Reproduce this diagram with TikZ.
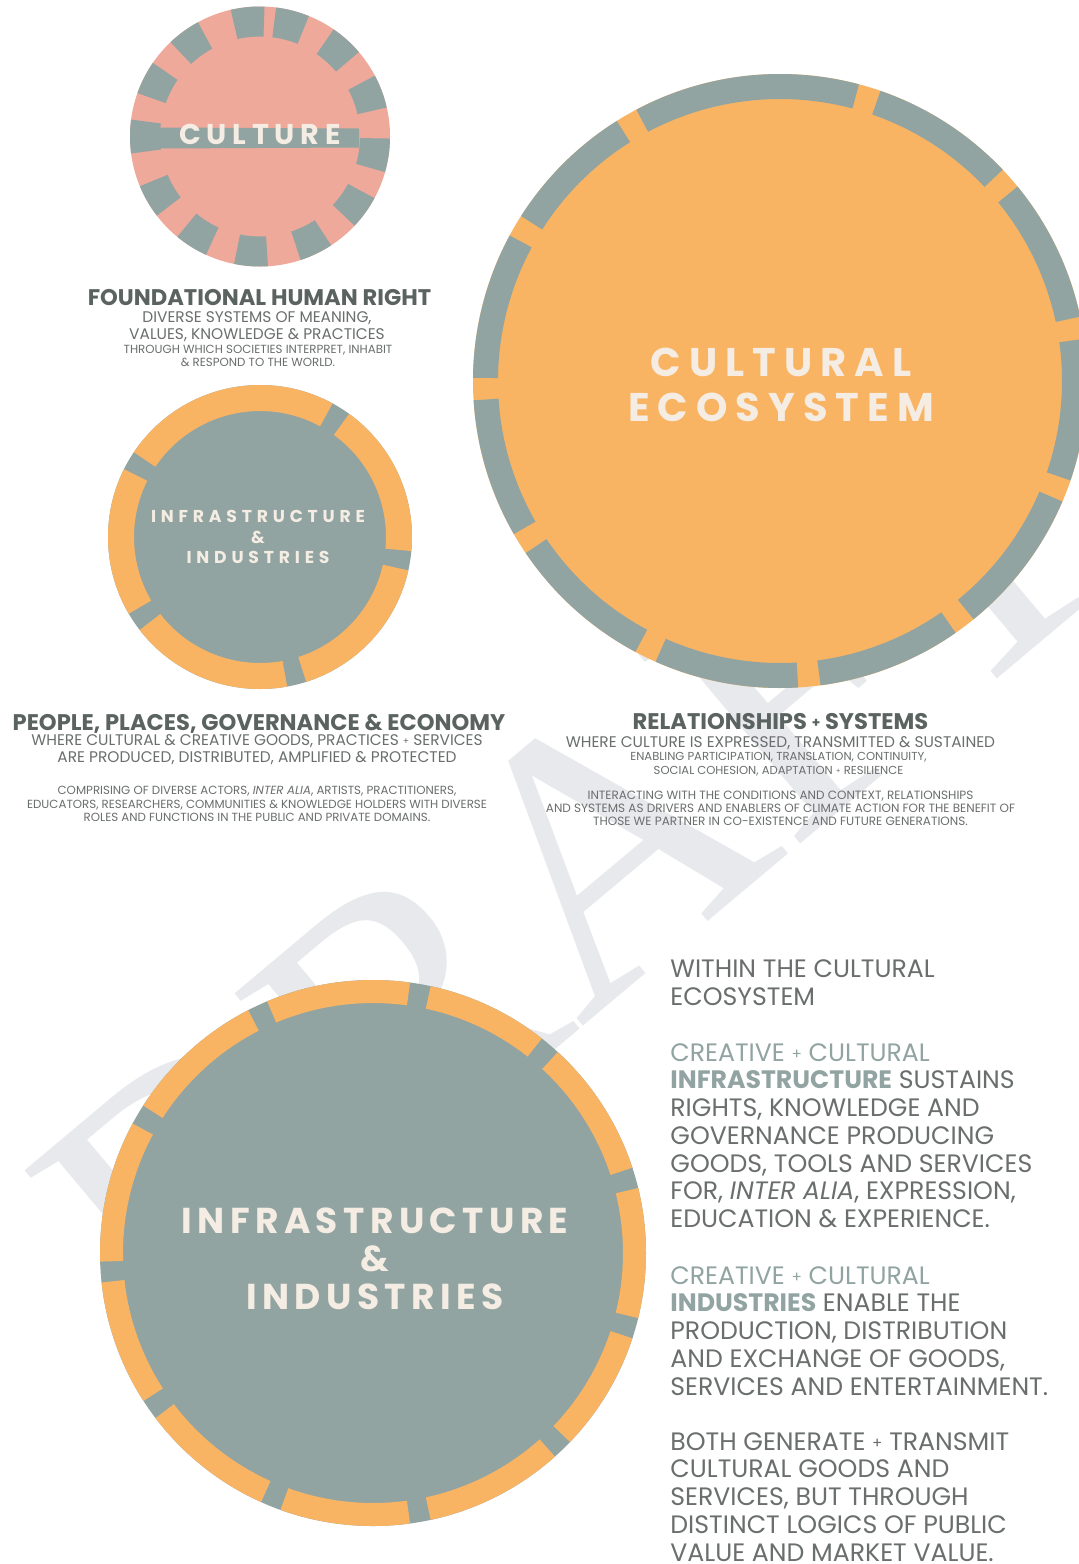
\documentclass[tikz,border=0pt]{standalone}
\usepackage{fontspec}
\usepackage{graphicx}
\setmainfont{Poppins}
\newfontfamily\ringfont{Poppins}
\newfontfamily\markfont{Liberation Serif}
\usetikzlibrary{positioning}

\definecolor{salmon}{HTML}{EFA99B}
\definecolor{sage}{HTML}{91A4A2}
\definecolor{apricot}{HTML}{F9B463}
\definecolor{cream}{HTML}{F5EDE3}
\definecolor{ink}{HTML}{5B6361}
\definecolor{prose}{HTML}{6A6E6D}
\definecolor{mist}{HTML}{E8E9EC}

\newcommand{\smplus}{\raisebox{.12ex}{\scalebox{.6}{+}}}

\begin{document}
\begin{tikzpicture}[x=0.5pt, y=0.5pt,
    head/.style={inner sep=0, anchor=north, text=ink, font=\fontsize{11.3}{12}\selectfont\bfseries},
    lead/.style={inner sep=0, anchor=north, align=center, text=prose},
    column/.style={inner sep=0, anchor=north west, align=left, text=prose, font=\fontsize{12.6}{13.85}\selectfont},
    ringtext/.style={inner sep=0, align=center, text=cream}]

  \path[use as bounding box, fill=white] (0,0) rectangle (1079,-1564);

  % watermark
  \node[rotate=40, inner sep=0, text=mist, font=\markfont\fontsize{190}{190}\selectfont] (draft) at (573,-872) {DRAFT};

  % culture
  \coordinate (cul) at (260,-136.5);
  \fill[salmon] (cul) circle[radius=130];
  \begin{scope}[shift={(cul)}]
    \foreach \a in {126,95.5,75.4,48,20.4,-8.4,-35.8,-64.3,-94,-122,-150,180,153}
      \fill[sage] (\a-7.5:130) arc[start angle=\a-7.5, end angle=\a+7.5, radius=130]
        -- (\a+7.5:100) arc[start angle=\a+7.5, end angle=\a-7.5, radius=100] -- cycle;
    \fill[sage] (-100,9) -- (99,8) -- (99,-11) -- (-100,-12) -- cycle;
  \end{scope}
  \node[ringtext, font=\ringfont\bfseries\addfontfeatures{LetterSpace=20}\fontsize{14.3}{16}\selectfont] (culture) at (260,-134) {CULTURE};

  % cultural ecosystem
  \coordinate (eco) at (780,-381);
  \fill[apricot] (eco) circle[radius=307];
  \begin{scope}[shift={(eco)}]
    \foreach \a/\b in {-176.4/-150.1,-145.9/-118.1,-113.9/-86.6,-82.4/-55.1,-50.9/-23.1,-18.9/7.9,
        12.1/39.3,43.5/70.9,75.1/117.9,122.1/147.5,151.7/179.4}
      \fill[sage] (\a:307) arc[start angle=\a, end angle=\b, radius=307]
        -- (\b:282) arc[start angle=\b, end angle=\a, radius=282] -- cycle;
  \end{scope}
  \node[ringtext, font=\ringfont\bfseries\addfontfeatures{LetterSpace=20}\fontsize{20}{22.5}\selectfont] (ecosystem) at (781,-384.5) {CULTURAL\\ECOSYSTEM};

  % infrastructure, small
  \coordinate (inf) at (260,-537);
  \fill[sage] (inf) circle[radius=152];
  \begin{scope}[shift={(inf)}]
    \foreach \a/\b in {-142.3/-79.7,-72.3/-12.7,-5.3/54.1,61.5/146.1,153.5/210.3}
      \fill[apricot] (\a:152) arc[start angle=\a, end angle=\b, radius=152]
        -- (\b:126) arc[start angle=\b, end angle=\a, radius=126] -- cycle;
  \end{scope}
  \node[ringtext, font=\ringfont\bfseries\addfontfeatures{LetterSpace=28}\fontsize{8.6}{10.4}\selectfont] (infra) at (258,-537) {INFRASTRUCTURE\\\&\\INDUSTRIES};

  % infrastructure, large
  \coordinate (ind) at (373,-1253);
  \fill[sage] (ind) circle[radius=273];
  \begin{scope}[shift={(ind)}]
    \foreach \a/\b in {-173.8/-147.2,-142.8/-114.2,-109.8/-82.2,-77.8/-48.2,-43.8/-18.2,-13.8/13.8,
        18.2/47.4,51.8/77.8,82.2/112.8,117.2/147.3,151.7/181.8}
      \fill[apricot] (\a:273) arc[start angle=\a, end angle=\b, radius=273]
        -- (\b:250) arc[start angle=\b, end angle=\a, radius=250] -- cycle;
  \end{scope}
  \node[ringtext, font=\ringfont\bfseries\addfontfeatures{LetterSpace=15}\fontsize{18}{18.9}\selectfont] (industries) at (375,-1259) {INFRASTRUCTURE\\\&\\INDUSTRIES};

  % captions
  \node[head] (right) at (259.5,-289) {FOUNDATIONAL HUMAN RIGHT};
  \node[lead, font=\fontsize{7.7}{8.25}\selectfont] (meaning) at (257,-311.5)
    {DIVERSE SYSTEMS OF MEANING,\\VALUES, KNOWLEDGE \& PRACTICES};
  \node[lead, font=\fontsize{5.9}{6.25}\selectfont] (world) at (258,-345)
    {THROUGH WHICH SOCIETIES INTERPRET, INHABIT\\\& RESPOND TO THE WORLD.};

  \node[head] (people) at (259,-713.5) {PEOPLE, PLACES, GOVERNANCE \& ECONOMY};
  \node[lead, font=\fontsize{7.7}{8.5}\selectfont] (goods) at (257,-734)
    {WHERE CULTURAL \& CREATIVE GOODS, PRACTICES \smplus{} SERVICES\\ARE PRODUCED, DISTRIBUTED, AMPLIFIED \& PROTECTED};
  \node[lead, font=\fontsize{5.9}{6.8}\selectfont] (actors) at (257,-786)
    {COMPRISING OF DIVERSE ACTORS, \textit{INTER ALIA}, ARTISTS, PRACTITIONERS,\\EDUCATORS, RESEARCHERS, COMMUNITIES \& KNOWLEDGE HOLDERS WITH DIVERSE\\ROLES AND FUNCTIONS IN THE PUBLIC AND PRIVATE DOMAINS.};

  \node[head] (relations) at (780.5,-713) {RELATIONSHIPS \smplus{} SYSTEMS};
  \node[lead, font=\fontsize{7.7}{8.5}\selectfont] (expressed) at (780.5,-736)
    {WHERE CULTURE IS EXPRESSED, TRANSMITTED \& SUSTAINED};
  \node[lead, font=\fontsize{5.8}{6.75}\selectfont] (enabling) at (778.5,-752)
    {ENABLING PARTICIPATION, TRANSLATION, CONTINUITY,\\SOCIAL COHESION, ADAPTATION \smplus{} RESILIENCE};
  \node[lead, font=\fontsize{6}{6.5}\selectfont] (climate) at (780.5,-791)
    {INTERACTING WITH THE CONDITIONS AND CONTEXT, RELATIONSHIPS\\AND SYSTEMS AS DRIVERS AND ENABLERS OF CLIMATE ACTION FOR THE BENEFIT OF\\THOSE WE PARTNER IN CO-EXISTENCE AND FUTURE GENERATIONS.};

  % text column
  \node[column] (within) at (670,-959.5) {WITHIN THE CULTURAL\\ECOSYSTEM};
  \node[column] (sustains) at (670,-1043)
    {{\color{sage}CREATIVE \smplus{} CULTURAL}\\{\color{sage}\bfseries INFRASTRUCTURE} SUSTAINS\\RIGHTS, KNOWLEDGE AND\\GOVERNANCE PRODUCING\\GOODS, TOOLS AND SERVICES\\FOR, \textit{INTER ALIA}, EXPRESSION,\\EDUCATION \& EXPERIENCE.};
  \node[column] (enable) at (670,-1266)
    {{\color{sage}CREATIVE \smplus{} CULTURAL}\\{\color{sage}\bfseries INDUSTRIES} ENABLE THE\\PRODUCTION, DISTRIBUTION\\AND EXCHANGE OF GOODS,\\SERVICES AND ENTERTAINMENT.};
  \node[column] (both) at (670,-1432)
    {BOTH GENERATE \smplus{} TRANSMIT\\CULTURAL GOODS AND\\SERVICES, BUT THROUGH\\DISTINCT LOGICS OF PUBLIC\\VALUE AND MARKET VALUE.};
\end{tikzpicture}
\end{document}
